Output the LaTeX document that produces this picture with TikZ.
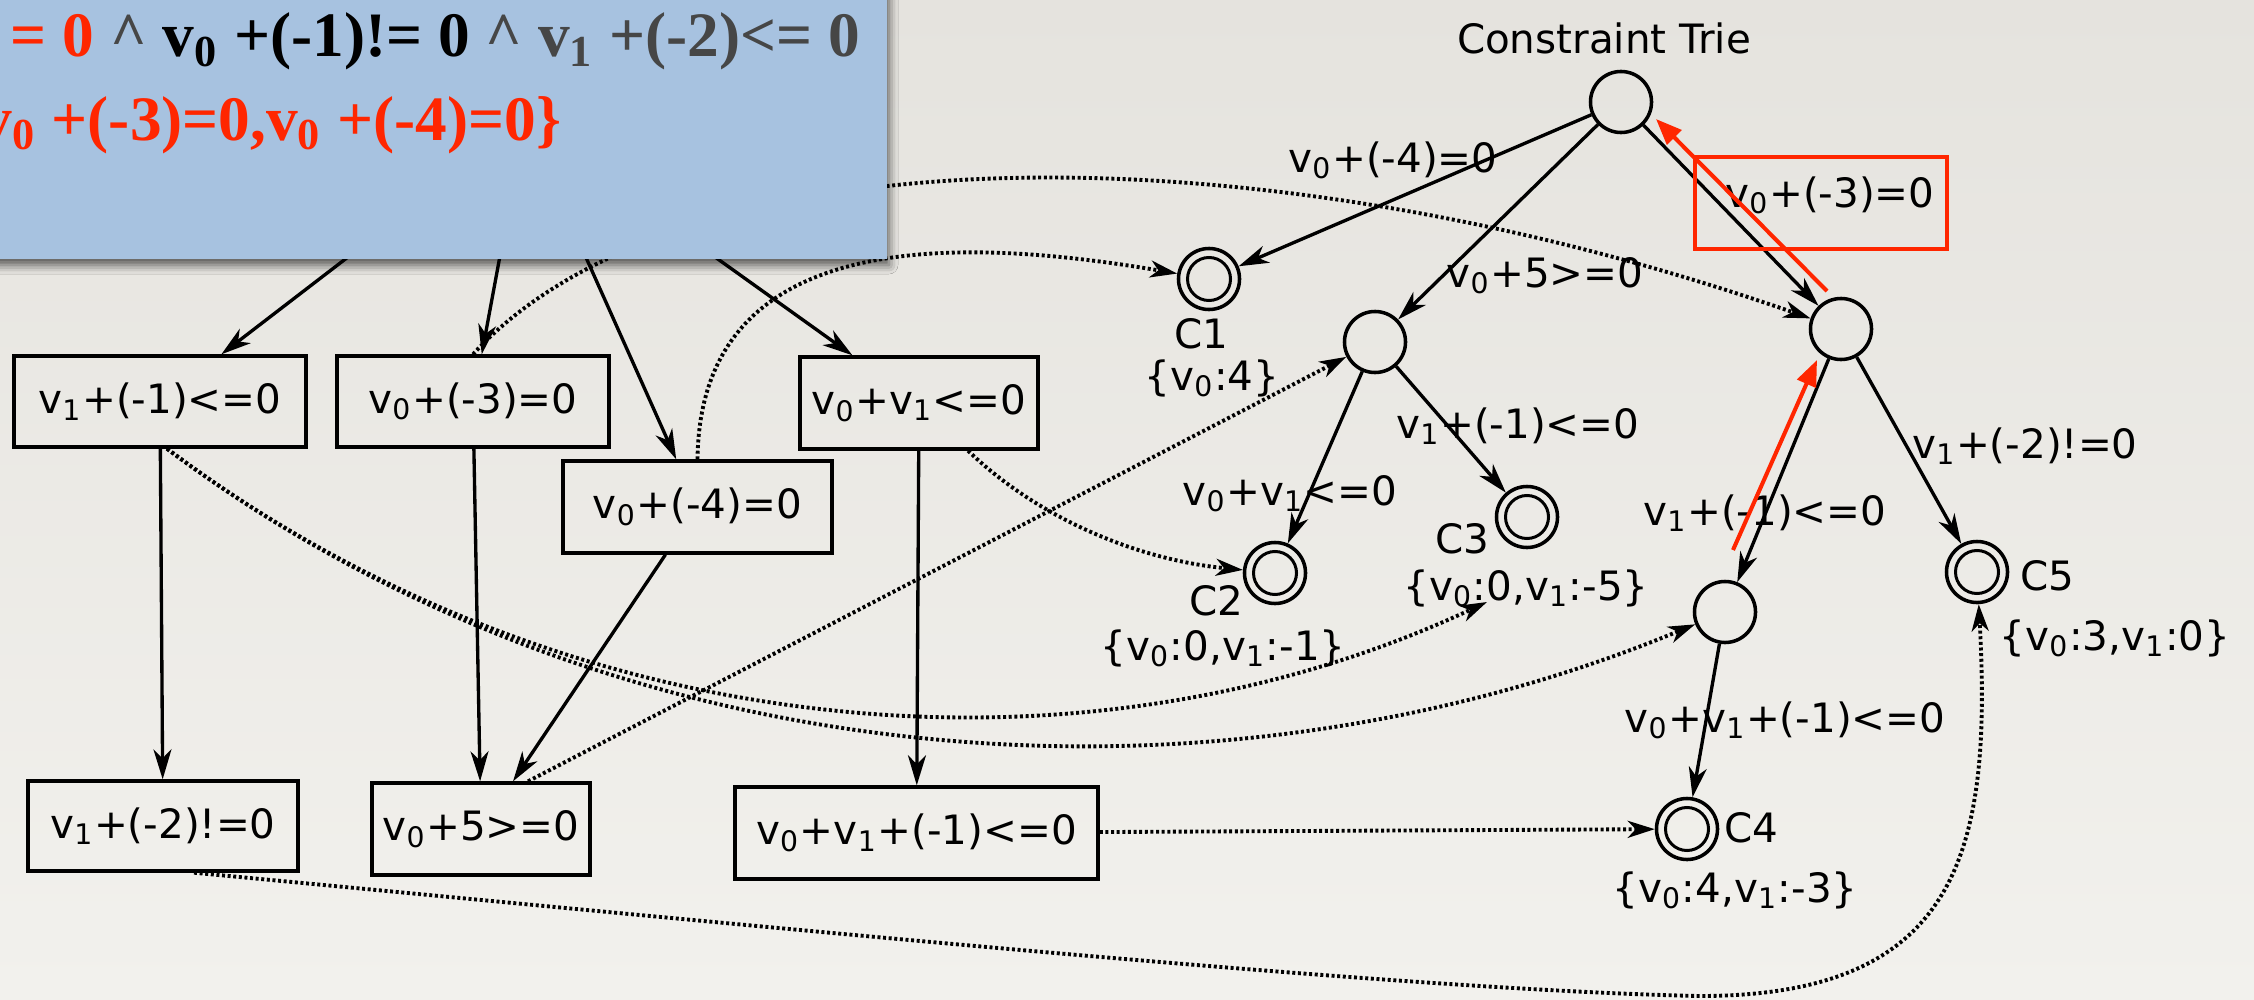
\documentclass[tikz,border=0pt]{standalone}
\usepackage{fontspec}
\setmainfont{DejaVu Sans}
\newfontfamily\slidefont{Liberation Serif}
\usetikzlibrary{arrows.meta,shadows.blur}
\definecolor{slideblue}{RGB}{167,194,224}
\definecolor{markred}  {RGB}{255,38,0}
\definecolor{softgrey} {RGB}{70,70,70}
\definecolor{papertop} {RGB}{229,227,222}
\definecolor{paperbot} {RGB}{242,241,237}
\newcommand{\vsub}[1]{v\textsubscript{#1}}

\tikzset{
  cbox/.style={draw, line width=0.95pt, inner sep=0pt},
  tnode/.style={circle, draw, line width=1pt, minimum size=0.61cm, inner sep=0pt},
  cnode/.style={tnode, path picture={\draw[line width=0.85pt] (path picture bounding box.center) circle (0.215cm);}},
  edge/.style={line width=0.95pt, -{Stealth[length=0.3cm,width=0.18cm,inset=0.09cm]}},
  link/.style={line width=1.1pt, dash pattern=on 0.85pt off 0.75pt, -{Stealth[length=0.27cm,width=0.17cm,inset=0.08cm]}},
  lbl/.style={anchor=base, inner sep=0pt},
  redarrow/.style={markred, line width=1.15pt, -{Triangle[length=0.26cm,width=0.2cm]}}
}

\begin{document}
\begin{tikzpicture}[x=0.01cm, y=-0.01cm, font=\fontsize{11.5pt}{13pt}\selectfont]
  \useasboundingbox (0,0) rectangle (2254,1000);
  \clip (0,0) rectangle (2254,1000);
  \shade[top color=papertop, bottom color=paperbot] (0,0) rectangle (2254,1000);

  % left: constraint DAG
  \coordinate (lroot) at (525,121);
  \node[cbox, minimum width=2.92cm, minimum height=0.91cm] (b1) at (160,401.5) {\vsub{1}+(-1)<=0};
  \node[cbox, minimum width=2.72cm, minimum height=0.91cm] (b2) at (473,401.5) {\vsub{0}+(-3)=0};
  \node[cbox, minimum width=2.69cm, minimum height=0.92cm] (b3) at (697.5,507) {\vsub{0}+(-4)=0};
  \node[cbox, minimum width=2.38cm, minimum height=0.92cm] (b4) at (919,403) {\vsub{0}+\vsub{1}<=0};
  \node[cbox, minimum width=2.70cm, minimum height=0.90cm] (b5) at (163,826) {\vsub{1}+(-2)!=0};
  \node[cbox, minimum width=2.18cm, minimum height=0.92cm] (b6) at (481,829) {\vsub{0}+5>=0};
  \node[cbox, minimum width=3.63cm, minimum height=0.92cm] (b7) at (916.5,833) {\vsub{0}+\vsub{1}+(-1)<=0};

  \draw[edge] (lroot) -- (b1);
  \draw[edge] (lroot) -- (b2);
  \draw[edge] (lroot) -- (b3);
  \draw[edge] (lroot) -- (b4);
  \draw[edge] (b1) -- (b5);
  \draw[edge] (b2) -- (b6);
  \draw[edge] (b3) -- (b6);
  \draw[edge] (b4) -- (b7);

  % right: constraint trie
  \node[lbl] (title) at (1604,53) {Constraint Trie};
  \node[tnode] (troot) at (1621,102) {};
  \node[cnode] (c1) at (1209,279) {};
  \node[tnode] (ta) at (1375,342) {};
  \node[tnode] (tb) at (1841,329) {};
  \node[cnode] (c2) at (1275,573) {};
  \node[cnode] (c3) at (1527,517) {};
  \node[tnode] (td) at (1725,612) {};
  \node[cnode] (c4) at (1687,829) {};
  \node[cnode] (c5) at (1977,572) {};

  \draw[edge] (troot) -- (c1);
  \draw[edge] (troot) -- (ta);
  \draw[edge] (troot) -- (tb);
  \draw[edge] (ta) -- (c2);
  \draw[edge] (ta) -- (c3);
  \draw[edge] (tb) -- (td);
  \draw[edge] (tb) -- (c5);
  \draw[edge] (td) -- (c4);

  \node[lbl] (e1) at (1393,172) {\vsub{0}+(-4)=0};
  \node[lbl] (e2) at (1545,287) {\vsub{0}+5>=0};
  \node[lbl] (e3) at (1830,207) {\vsub{0}+(-3)=0};
  \node[lbl] (e4) at (1518,438) {\vsub{1}+(-1)<=0};
  \node[lbl] (e5) at (1290,505) {\vsub{0}+\vsub{1}<=0};
  \node[lbl] (e6) at (1765,525) {\vsub{1}+(-1)<=0};
  \node[lbl] (e7) at (2025,458) {\vsub{1}+(-2)!=0};
  \node[lbl] (e8) at (1785,732) {\vsub{0}+\vsub{1}+(-1)<=0};

  \node[lbl] (c1n) at (1201,348) {C1};
  \node[lbl] (c1v) at (1212,390) {\{\vsub{0}:4\}};
  \node[lbl] (c2n) at (1216,615) {C2};
  \node[lbl] (c2v) at (1223,660) {\{\vsub{0}:0,\vsub{1}:-1\}};
  \node[lbl] (c3n) at (1462,553) {C3};
  \node[lbl] (c3v) at (1526,600) {\{\vsub{0}:0,\vsub{1}:-5\}};
  \node[lbl] (c4n) at (1751,842) {C4};
  \node[lbl] (c4v) at (1735,902) {\{\vsub{0}:4,\vsub{1}:-3\}};
  \node[lbl] (c5n) at (2047,590) {C5};
  \node[lbl] (c5v) at (2115,650) {\{\vsub{0}:3,\vsub{1}:0\}};

  % dotted links from the DAG to the trie
  \coordinate (c3in) at (1487,602);
  \draw[link] (b2.north) .. controls (674,134) and (1238,119) .. (tb);
  \draw[link] (b3.north) .. controls (700,240) and (928,231) .. (c1);
  \draw[link] ([xshift=0.49cm]b4.south) .. controls (1040,520) and (1140,560) .. (c2);
  \draw[link] ([xshift=0.07cm]b1.south) .. controls (567,748) and (1082,791) .. (c3in);
  \draw[link] ([xshift=0.07cm]b1.south) .. controls (615,784) and (1214,823) .. (td);
  \draw[link] ([xshift=0.47cm]b6.north) -- (ta);
  \draw[link] (b7) -- (c4);
  \draw[link] ([xshift=0.31cm]b5.south) .. controls (800,930) and (1400,990) .. (1700,996)
    .. controls (1960,996) and (1992,850) .. (c5);

  % slide overlay
  \fill[slideblue, blur shadow={shadow xshift=0.02cm, shadow yshift=-0.06cm, shadow blur radius=0.09cm, shadow opacity=65}]
    (-40,-40) rectangle (887,259);
  \node[anchor=base east, inner sep=0pt, font=\slidefont\bfseries\fontsize{18pt}{20pt}\selectfont] (cond) at (861,57)
    {\color{markred}= 0 \color{softgrey}\textasciicircum{} \color{black}\vsub{0} +(-1)!= 0 \color{softgrey}\textasciicircum{} \vsub{1} +(-2)<= 0};
  \node[anchor=base east, inner sep=0pt, font=\slidefont\bfseries\fontsize{18pt}{20pt}\selectfont] (found) at (562,140)
    {\color{markred}\{\vsub{0} +(-3)=0,\vsub{0} +(-4)=0\}};

  % red highlight
  \node[draw=markred, line width=1.15pt, minimum width=2.52cm, minimum height=0.92cm, inner sep=0pt] (hilite) at (1821,203) {};
  \coordinate (ra1s) at (1827,291);
  \coordinate (ra1e) at (1656,119);
  \coordinate (ra2s) at (1733,550);
  \coordinate (ra2e) at (1817,360);
  \draw[redarrow] (ra1s) -- (ra1e);
  \draw[redarrow] (ra2s) -- (ra2e);
\end{tikzpicture}
\end{document}
